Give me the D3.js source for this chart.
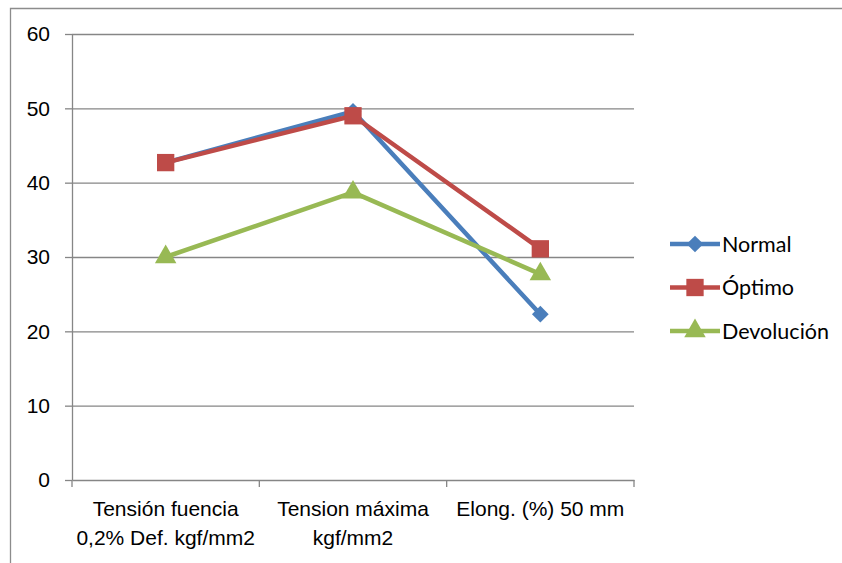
<!DOCTYPE html>
<html>
<head>
<meta charset="utf-8">
<script src="https://cdn.jsdelivr.net/npm/d3@7"></script>
<style>
  body { margin: 0; background: #fff; }
  svg { font-family: Lato, "Open Sans", sans-serif; }
  .axis path, .axis line { stroke: #868686; stroke-width: 1.3; }
  .axis text { font-size: 21px; fill: #000; }
  .grid line { stroke: #868686; stroke-width: 1.3; }
  .grid path { display: none; }
  .legend text { font-size: 21.5px; fill: #000; }
</style>
</head>
<body>
<svg width="842" height="563"></svg>
<script>
const categories = [
  ['Tensión fuencia', '0,2% Def. kgf/mm2'],
  ['Tension máxima', 'kgf/mm2'],
  ['Elong. (%) 50 mm']
]
const normal = [42.7, 49.6, 22.3]
const optimo = [42.7, 49.0, 31.1]
const devolucion = [30.0, 38.7, 27.7]
const yTicks = [0, 10, 20, 30, 40, 50, 60]

// diamond = square turned by 45 degrees, like the office chart marker
const series = [
  { name: 'Normal', values: normal, color: '#4a7ebb', symbol: d3.symbolSquare, size: 140, rotate: 45 },
  { name: 'Óptimo', values: optimo, color: '#be4b48', symbol: d3.symbolSquare, size: 300, rotate: 0 },
  { name: 'Devolución', values: devolucion, color: '#98b954', symbol: d3.symbolTriangle, size: 200, rotate: 0 }
]

const svg = d3.select('svg')

// outer chart border (only top and left visible)
svg.append('path')
  .attr('d', 'M10.5,563 V8.5 H842')
  .attr('fill', 'none')
  .attr('stroke', '#8c8c8c')
  .attr('stroke-width', 1.3)

const plotLeft = 72, plotRight = 634, plotTop = 34, plotBottom = 480

const xScale = d3.scaleBand()
  .range([plotLeft, plotRight])
  .domain(d3.range(categories.length))

const yScale = d3.scaleLinear()
  .range([plotBottom, plotTop])
  .domain([0, 60])

svg.append('g')
  .attr('class', 'grid')
  .attr('transform', `translate(${plotLeft}, 0)`)
  .call(d3.axisLeft(yScale)
    .tickValues(yTicks.slice(1))
    .tickSize(-(plotRight - plotLeft))
    .tickFormat('')
  )

const yAxis = svg.append('g')
  .attr('class', 'axis')
  .attr('transform', `translate(${plotLeft}, 0)`)
  .call(d3.axisLeft(yScale).tickValues(yTicks).tickSize(7).tickPadding(15).tickSizeOuter(0))

const xAxis = svg.append('g')
  .attr('class', 'axis')
  .attr('transform', `translate(0, ${plotBottom})`)
  .call(d3.axisBottom(xScale).tickSize(0).tickSizeOuter(0).tickFormat(''))

// category boundary ticks
xAxis.selectAll('.bound')
  .data(d3.range(categories.length + 1))
  .enter()
  .append('line')
  .attr('x1', (i) => plotLeft + i * xScale.step())
  .attr('x2', (i) => plotLeft + i * xScale.step())
  .attr('y1', 0)
  .attr('y2', 7)

xAxis.selectAll('.cat')
  .data(categories)
  .enter()
  .append('text')
  .attr('text-anchor', 'middle')
  .attr('x', (d, i) => xScale(i) + xScale.bandwidth() / 2)
  .attr('y', 36)
  .selectAll('tspan')
  .data((d) => d)
  .enter()
  .append('tspan')
  .attr('x', function () { return this.parentNode.getAttribute('x') })
  .attr('dy', (d, i) => i === 0 ? 0 : 29)
  .text((d) => d)

const line = d3.line()
  .x((d, i) => xScale(i) + xScale.bandwidth() / 2)
  .y((d) => yScale(d))

series.forEach((s) => {
  svg.append('path')
    .attr('d', line(s.values))
    .attr('fill', 'none')
    .attr('stroke', s.color)
    .attr('stroke-width', 4.5)
    .attr('stroke-linejoin', 'round')
})

series.forEach((s) => {
  svg.selectAll(null)
    .data(s.values)
    .enter()
    .append('path')
    .attr('d', d3.symbol().type(s.symbol).size(s.size))
    .attr('transform', (d, i) => `translate(${xScale(i) + xScale.bandwidth() / 2}, ${yScale(d)}) rotate(${s.rotate})`)
    .attr('fill', s.color)
})

const legend = svg.append('g')
  .attr('class', 'legend')

const items = legend.selectAll('g')
  .data(series)
  .enter()
  .append('g')
  .attr('transform', (d, i) => `translate(670, ${244 + i * 43.5})`)

items.append('line')
  .attr('x1', 0)
  .attr('x2', 50)
  .attr('stroke', (d) => d.color)
  .attr('stroke-width', 4.5)

items.append('path')
  .attr('d', (d) => d3.symbol().type(d.symbol).size(d.size)())
  .attr('transform', (d) => `translate(25, 0) rotate(${d.rotate})`)
  .attr('fill', (d) => d.color)

items.append('text')
  .attr('x', 52)
  .attr('dy', '0.35em')
  .text((d) => d.name)
</script>
</body>
</html>
